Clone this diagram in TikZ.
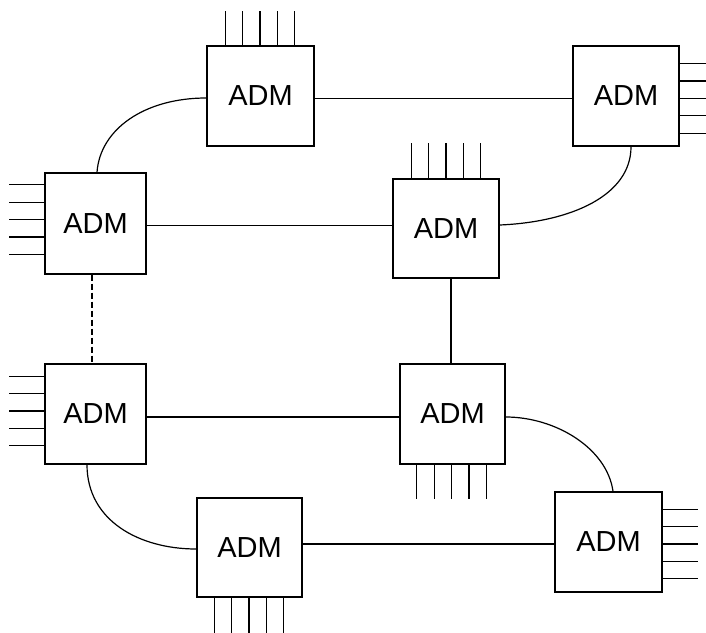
\documentclass[tikz,border=0pt]{standalone}
\usepackage{fontspec}
\setmainfont{Liberation Sans}
\begin{document}
\begin{tikzpicture}[x=1pt,y=-1pt,
  adm/.style={draw, line width=1.4pt, minimum width=105pt, minimum height=100pt,
    inner sep=0pt, font=\fontsize{29}{29}\selectfont},
  link/.style={line width=1.2pt},
  pinline/.style={line width=1.2pt}]
\useasboundingbox (0,0) rectangle (706,632);
% nodes
\node[adm, minimum width=107pt] (b1) at (260.5,96) {ADM};
\node[adm, minimum width=106pt] (b2) at (626,96) {ADM};
\node[adm, minimum width=101pt, minimum height=101pt] (b3) at (95.5,223.5) {ADM};
\node[adm, minimum width=106pt, minimum height=99pt] (b4) at (446,228.5) {ADM};
\node[adm] (b5) at (452.5,414) {ADM};
\node[adm, minimum width=101pt] (b6) at (95.5,414) {ADM};
\node[adm, minimum height=99pt] (b7) at (249.5,547.5) {ADM};
\node[adm, minimum width=107pt] (b8) at (608.5,542) {ADM};
% tributary pins
\foreach \d in {-34.8,-17.4,0,17.4,34.8} {
  \draw[pinline] ([xshift={\d pt-0.5pt}]b1.north) -- ++(0,-34);
  \draw[pinline] ([xshift=\d pt]b4.north) -- ++(0,-35);
  \draw[pinline] ([xshift={\d pt-1pt}]b5.south) -- ++(0,34);
  \draw[pinline] ([xshift={\d pt-0.5pt}]b7.south) -- ++(0,35);
  \draw[pinline] ([yshift={\d pt+4pt}]b3.west) -- ++(-35,0);
  \draw[pinline] ([yshift={\d pt+3pt}]b6.west) -- ++(-35,0);
  \draw[pinline] ([yshift={\d pt-2.4pt}]b2.east) -- ++(27,0);
  \draw[pinline] ([yshift={\d pt-2pt}]b8.east) -- ++(35,0);
}
% straight links
\draw[link] ([yshift=-2.5pt]b1.east) -- ([yshift=-2.5pt]b2.west);
\draw[link] ([yshift=-2.2pt]b3.east) -- ([yshift=2.8pt]b4.west);
\draw[link] ([xshift=5pt]b4.south) -- ([xshift=-1.5pt]b5.north);
\draw[link] ([yshift=-3pt]b6.east) -- ([yshift=-3pt]b5.west);
\draw[link] ([yshift=3.5pt]b7.east) -- ([yshift=-2pt]b8.west);
\draw[link, dash pattern=on 6pt off 3pt] ([xshift=-3.5pt]b3.south) -- ([xshift=-3.5pt]b6.north);
% curved links
\draw[link] ([xshift=1.5pt]b3.north) .. controls +(3,-43) and +(-62,0) .. ([yshift=-2pt]b1.west);
\draw[link] ([yshift=3.5pt]b4.east) .. controls +(71,-3) and +(0,49) .. ([xshift=5pt]b2.south);
\draw[link] ([yshift=-3pt]b5.east) .. controls +(50,0) and +(-6,-43) .. ([xshift=4.5pt]b8.north);
\draw[link] ([xshift=-8.5pt]b6.south) .. controls +(0,56) and +(-57,0) .. ([yshift=-1.5pt]b7.west);
\end{tikzpicture}
\end{document}
